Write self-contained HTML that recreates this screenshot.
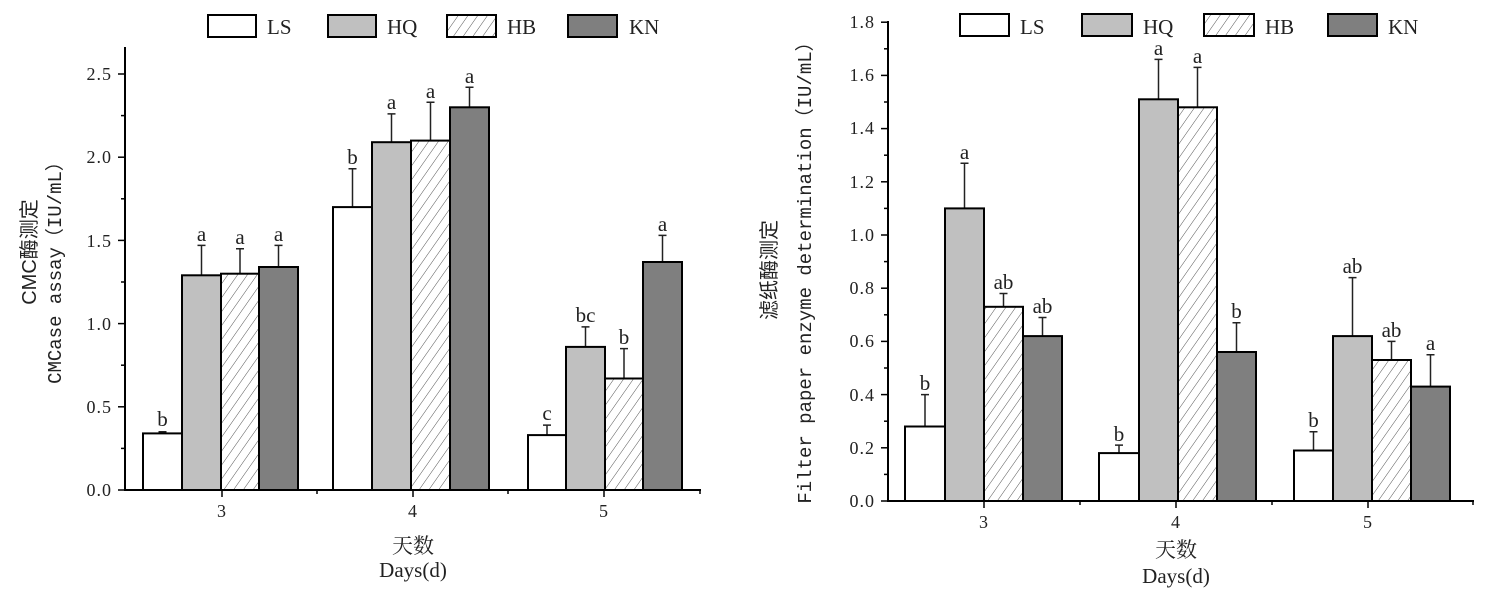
<!DOCTYPE html>
<html><head><meta charset="utf-8"><style>
body{margin:0;background:#fff;width:1500px;height:598px;overflow:hidden}
svg{display:block}
text{font-family:"Liberation Serif","Noto Serif CJK SC",serif;fill:#222}
.t{font-size:18px;letter-spacing:1px}
.m{font-family:"Liberation Mono","Noto Sans CJK SC",monospace;font-size:19px}
.c{font-family:"Liberation Sans","Noto Sans CJK SC",sans-serif;font-size:20px}
.lt{font-size:21px}
.b{stroke:#000;stroke-width:2}
.e{stroke:#222;stroke-width:1.5;fill:none}
</style></head><body>
<svg width="1500" height="598" viewBox="0 0 1500 598" xmlns="http://www.w3.org/2000/svg">
<defs>
<pattern id="h" width="8" height="8" patternUnits="userSpaceOnUse" patternTransform="rotate(35)">
<rect width="8" height="8" fill="#fff"/><line x1="0" y1="0" x2="0" y2="8" stroke="#555" stroke-width="1"/>
</pattern>
</defs>

<!-- LEFT CHART -->
<g class="b">
<line x1="125" y1="47" x2="125" y2="491"/>
<line x1="124" y1="490" x2="701" y2="490"/>
</g>
<g stroke="#000" stroke-width="1.5">
<line x1="118" y1="490" x2="125" y2="490"/><line x1="121" y1="448.4" x2="125" y2="448.4"/>
<line x1="118" y1="406.8" x2="125" y2="406.8"/><line x1="121" y1="365.2" x2="125" y2="365.2"/>
<line x1="118" y1="323.6" x2="125" y2="323.6"/><line x1="121" y1="282" x2="125" y2="282"/>
<line x1="118" y1="240.4" x2="125" y2="240.4"/><line x1="121" y1="198.8" x2="125" y2="198.8"/>
<line x1="118" y1="157.2" x2="125" y2="157.2"/><line x1="121" y1="115.6" x2="125" y2="115.6"/>
<line x1="118" y1="74" x2="125" y2="74"/>
<line x1="222" y1="490" x2="222" y2="497"/><line x1="413" y1="490" x2="413" y2="497"/><line x1="604" y1="490" x2="604" y2="497"/>
<line x1="317" y1="490" x2="317" y2="494"/><line x1="508" y1="490" x2="508" y2="494"/><line x1="700" y1="490" x2="700" y2="494"/>
</g>
<g class="t" text-anchor="end">
<text x="112" y="496">0.0</text><text x="112" y="413">0.5</text><text x="112" y="330">1.0</text>
<text x="112" y="247">1.5</text><text x="112" y="163">2.0</text><text x="112" y="80">2.5</text>
</g>
<g class="t" text-anchor="middle">
<text x="222" y="517">3</text><text x="413" y="517">4</text><text x="604" y="517">5</text>
</g>
<text class="lt" x="413" y="553" text-anchor="middle">天数</text>
<text class="lt" x="413" y="577" text-anchor="middle">Days(d)</text>
<text class="c" transform="translate(36,252) rotate(-90)" text-anchor="middle">CMC酶测定</text>
<text class="m" transform="translate(61,268) rotate(-90)" text-anchor="middle">CMCase assay（IU/mL）</text>

<!-- legend left -->
<g class="b">
<rect x="208" y="15" width="48" height="22" fill="#fff"/>
<rect x="328" y="15" width="48" height="22" fill="#c0c0c0"/>
<rect x="447" y="15" width="49" height="22" fill="url(#h)"/>
<rect x="568" y="15" width="49" height="22" fill="#7f7f7f"/>
</g>
<g class="lt"><text x="267" y="34">LS</text><text x="387" y="34">HQ</text><text x="507" y="34">HB</text><text x="629" y="34">KN</text></g>

<!-- bars left -->
<g class="e">
<path d="M162.5 433.4V431.8M158.5 431.8h8"/>
<path d="M201.5 275.3V245.4M197.5 245.4h8"/>
<path d="M240 273.7V248.7M236 248.7h8"/>
<path d="M278.5 267V245.4M274.5 245.4h8"/>
<path d="M352.5 207.1V168.8M348.5 168.8h8"/>
<path d="M391.5 142.2V113.9M387.5 113.9h8"/>
<path d="M430.5 140.6V102.3M426.5 102.3h8"/>
<path d="M469.5 107.3V87.3M465.5 87.3h8"/>
<path d="M547 435.1V425.1M543 425.1h8"/>
<path d="M585.5 346.9V326.9M581.5 326.9h8"/>
<path d="M624 378.5V348.6M620 348.6h8"/>
<path d="M662.5 262V235.4M658.5 235.4h8"/>
</g>
<g class="b">
<rect x="143" y="433.4" width="39" height="56.6" fill="#fff"/>
<rect x="182" y="275.3" width="39" height="214.7" fill="#c0c0c0"/>
<rect x="221" y="273.7" width="38" height="216.3" fill="url(#h)"/>
<rect x="259" y="267" width="39" height="223" fill="#7f7f7f"/>
<rect x="333" y="207.1" width="39" height="282.9" fill="#fff"/>
<rect x="372" y="142.2" width="39" height="347.8" fill="#c0c0c0"/>
<rect x="411" y="140.6" width="39" height="349.4" fill="url(#h)"/>
<rect x="450" y="107.3" width="39" height="382.7" fill="#7f7f7f"/>
<rect x="528" y="435.1" width="38" height="54.9" fill="#fff"/>
<rect x="566" y="346.9" width="39" height="143.1" fill="#c0c0c0"/>
<rect x="605" y="378.5" width="38" height="111.5" fill="url(#h)"/>
<rect x="643" y="262" width="39" height="228" fill="#7f7f7f"/>
</g>
<g class="lt" text-anchor="middle">
<text x="162.5" y="426">b</text><text x="201.5" y="241">a</text><text x="240" y="244">a</text><text x="278.5" y="241">a</text>
<text x="352.5" y="164">b</text><text x="391.5" y="109">a</text><text x="430.5" y="98">a</text><text x="469.5" y="83">a</text>
<text x="547" y="420">c</text><text x="585.5" y="322">bc</text><text x="624" y="344">b</text><text x="662.5" y="231">a</text>
</g>

<!-- RIGHT CHART -->
<g class="b">
<line x1="888" y1="21" x2="888" y2="502"/>
<line x1="887" y1="501" x2="1474" y2="501"/>
</g>
<g stroke="#000" stroke-width="1.5">
<line x1="881" y1="501" x2="888" y2="501"/><line x1="884" y1="474.4" x2="888" y2="474.4"/>
<line x1="881" y1="447.8" x2="888" y2="447.8"/><line x1="884" y1="421.2" x2="888" y2="421.2"/>
<line x1="881" y1="394.6" x2="888" y2="394.6"/><line x1="884" y1="368" x2="888" y2="368"/>
<line x1="881" y1="341.4" x2="888" y2="341.4"/><line x1="884" y1="314.8" x2="888" y2="314.8"/>
<line x1="881" y1="288.2" x2="888" y2="288.2"/><line x1="884" y1="261.6" x2="888" y2="261.6"/>
<line x1="881" y1="235" x2="888" y2="235"/><line x1="884" y1="208.4" x2="888" y2="208.4"/>
<line x1="881" y1="181.8" x2="888" y2="181.8"/><line x1="884" y1="155.2" x2="888" y2="155.2"/>
<line x1="881" y1="128.6" x2="888" y2="128.6"/><line x1="884" y1="102" x2="888" y2="102"/>
<line x1="881" y1="75.4" x2="888" y2="75.4"/><line x1="884" y1="48.8" x2="888" y2="48.8"/>
<line x1="881" y1="22.2" x2="888" y2="22.2"/>
<line x1="984" y1="501" x2="984" y2="508"/><line x1="1176" y1="501" x2="1176" y2="508"/><line x1="1368" y1="501" x2="1368" y2="508"/>
<line x1="1080" y1="501" x2="1080" y2="505"/><line x1="1272" y1="501" x2="1272" y2="505"/><line x1="1473" y1="501" x2="1473" y2="505"/>
</g>
<g class="t" text-anchor="end">
<text x="875" y="507">0.0</text><text x="875" y="454">0.2</text><text x="875" y="401">0.4</text>
<text x="875" y="347">0.6</text><text x="875" y="294">0.8</text><text x="875" y="241">1.0</text>
<text x="875" y="188">1.2</text><text x="875" y="134">1.4</text><text x="875" y="81">1.6</text><text x="875" y="28">1.8</text>
</g>
<g class="t" text-anchor="middle">
<text x="984" y="528">3</text><text x="1176" y="528">4</text><text x="1368" y="528">5</text>
</g>
<text class="lt" x="1176" y="557" text-anchor="middle">天数</text>
<text class="lt" x="1176" y="583" text-anchor="middle">Days(d)</text>
<text class="c" transform="translate(776,270) rotate(-90)" text-anchor="middle">滤纸酶测定</text>
<text class="m" transform="translate(811,268) rotate(-90)" text-anchor="middle">Filter paper enzyme determination（IU/mL）</text>

<!-- legend right -->
<g class="b">
<rect x="960" y="14" width="49" height="22" fill="#fff"/>
<rect x="1082" y="14" width="50" height="22" fill="#c0c0c0"/>
<rect x="1204" y="14" width="50" height="22" fill="url(#h)"/>
<rect x="1328" y="14" width="49" height="22" fill="#7f7f7f"/>
</g>
<g class="lt"><text x="1020" y="34">LS</text><text x="1143" y="34">HQ</text><text x="1265" y="34">HB</text><text x="1388" y="34">KN</text></g>

<!-- bars right -->
<g class="e">
<path d="M925 426.5V394.6M921 394.6h8"/>
<path d="M964.5 208.4V163.2M960.5 163.2h8"/>
<path d="M1003.5 306.8V293.5M999.5 293.5h8"/>
<path d="M1042.5 336.1V317.5M1038.5 317.5h8"/>
<path d="M1119 453.1V445.1M1115 445.1h8"/>
<path d="M1158.5 99.3V59.4M1154.5 59.4h8"/>
<path d="M1197.5 107.3V67.4M1193.5 67.4h8"/>
<path d="M1236.5 352V322.8M1232.5 322.8h8"/>
<path d="M1313.5 450.5V431.8M1309.5 431.8h8"/>
<path d="M1352.5 336.1V277.6M1348.5 277.6h8"/>
<path d="M1391.5 360V341.4M1387.5 341.4h8"/>
<path d="M1430.5 386.6V354.7M1426.5 354.7h8"/>
</g>
<g class="b">
<rect x="905" y="426.5" width="40" height="74.5" fill="#fff"/>
<rect x="945" y="208.4" width="39" height="292.6" fill="#c0c0c0"/>
<rect x="984" y="306.8" width="39" height="194.2" fill="url(#h)"/>
<rect x="1023" y="336.1" width="39" height="164.9" fill="#7f7f7f"/>
<rect x="1099" y="453.1" width="40" height="47.9" fill="#fff"/>
<rect x="1139" y="99.3" width="39" height="401.7" fill="#c0c0c0"/>
<rect x="1178" y="107.3" width="39" height="393.7" fill="url(#h)"/>
<rect x="1217" y="352" width="39" height="149" fill="#7f7f7f"/>
<rect x="1294" y="450.5" width="39" height="50.5" fill="#fff"/>
<rect x="1333" y="336.1" width="39" height="164.9" fill="#c0c0c0"/>
<rect x="1372" y="360" width="39" height="141" fill="url(#h)"/>
<rect x="1411" y="386.6" width="39" height="114.4" fill="#7f7f7f"/>
</g>
<g class="lt" text-anchor="middle">
<text x="925" y="390">b</text><text x="964.5" y="159">a</text><text x="1003.5" y="289">ab</text><text x="1042.5" y="313">ab</text>
<text x="1119" y="441">b</text><text x="1158.5" y="55">a</text><text x="1197.5" y="63">a</text><text x="1236.5" y="318">b</text>
<text x="1313.5" y="427">b</text><text x="1352.5" y="273">ab</text><text x="1391.5" y="337">ab</text><text x="1430.5" y="350">a</text>
</g>
</svg>
</body></html>
